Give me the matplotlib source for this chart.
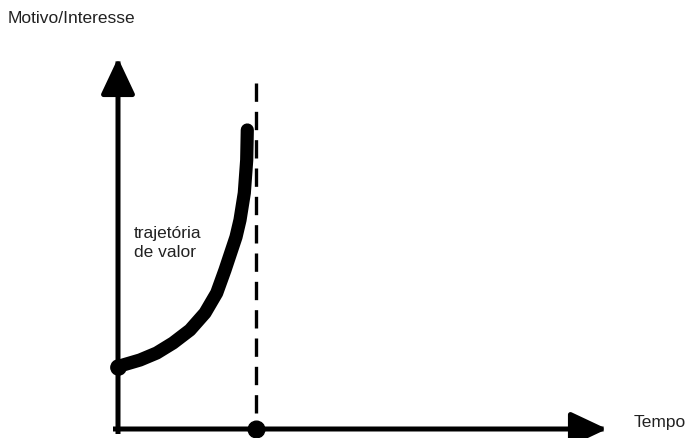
import numpy as np
import matplotlib.pyplot as plt

plt.rcParams['font.family'] = ['Liberation Sans', 'DejaVu Sans']

# value trajectory (time, interest)
tempo = [0.0, 0.5, 2.2, 3.87, 5.5, 7.2, 8.7, 9.87, 10.7, 11.2, 11.8,
         12.2, 12.63, 12.87, 12.93]
interesse = [6.2, 6.4, 6.9, 7.6, 8.6, 9.9, 11.6, 13.6, 15.9, 17.4, 19.2,
             20.9, 23.6, 26.9, 29.9]

t_corte = 13.8      # dashed vertical marker
topo_corte = 34.6
y_max = 37.1        # arrow tips
x_max = 48.9

fig = plt.figure(figsize=(6.9, 4.38), dpi=100)
ax = fig.add_axes([0, 0, 1, 1])
ax.set_xlim(-11.8, 57.2)
ax.set_ylim(-0.9, 42.9)
ax.axis('off')

# axes with arrow heads
arrow = dict(arrowstyle='-|>,head_length=1.7,head_width=0.8', lw=3.6,
             color='black', mutation_scale=13, shrinkA=0, shrinkB=0,
             joinstyle='round', capstyle='projecting')
ax.annotate('', xy=(0, y_max), xytext=(0, -0.25), arrowprops=arrow)
ax.annotate('', xy=(x_max, 0), xytext=(-0.25, 0), arrowprops=arrow)

# dashed line, drawn from the top so it starts with a dash
ax.plot([t_corte, t_corte], [topo_corte, 0], color='black', lw=2.4,
        dashes=(5.5, 3.0))

# curve
ax.plot(tempo, interesse, color='black', lw=9.5, solid_capstyle='round',
        solid_joinstyle='round')

# points
ax.plot([tempo[0]], [interesse[0]], 'o', color='black', ms=11)
ax.plot([t_corte], [0], 'o', color='black', ms=12)

ax.text(-11.0, 41.0, 'Motivo/Interesse', fontsize=12.5, color='#222222',
        va='center', ha='left')
ax.text(51.6, 0.65, 'Tempo', fontsize=12.5, color='#222222', va='center',
        ha='left')
ax.text(1.6, 18.6, 'trajetória\nde valor', fontsize=12.5, color='#222222',
        va='center', ha='left', linespacing=1.35)

fig.savefig('out.png', dpi=100)
